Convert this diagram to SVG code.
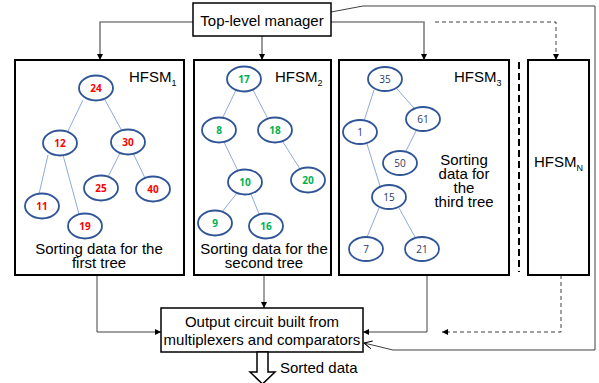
<svg xmlns="http://www.w3.org/2000/svg" width="599" height="383" viewBox="0 0 599 383">
<defs>
<style>
.lbl{font-family:"Liberation Sans",Arial,sans-serif;font-size:15px;fill:#000}
.box{fill:#fff;stroke:#000;stroke-width:2}
.nd{fill:#fff;stroke:#2f5597;stroke-width:1.8}
.ed{stroke:#8faadc;stroke-width:1;fill:none}
.num{font-family:"Open Sans","Liberation Sans",sans-serif;font-size:10px;text-anchor:middle;dominant-baseline:central}
.r{fill:#ff0000;font-weight:bold}
.g{fill:#00b050;font-weight:bold}
.b{fill:#1f3864}
.mg{stroke:#808080;stroke-width:1.6;fill:none}
.cn{stroke:#404040;stroke-width:1;fill:none}
.dash{stroke-dasharray:4 3}
</style>
<marker id="ah" markerUnits="userSpaceOnUse" markerWidth="7" markerHeight="7" refX="6" refY="3" orient="auto">
<path d="M0,0 L6,3 L0,6 z" fill="#000"/>
</marker>
<marker id="oa" markerUnits="userSpaceOnUse" markerWidth="10" markerHeight="10" refX="8" refY="4" orient="auto">
<path d="M0,0 L8,4 L0,8" fill="none" stroke="#000" stroke-width="1"/>
</marker>
</defs>
<rect width="599" height="383" fill="#fff"/>

<g id="connectors">
<path class="mg" d="M193,22 H100 V60" marker-end="url(#ah)"/>
<path class="mg" d="M262,36 V60" marker-end="url(#ah)"/>
<path class="mg" d="M331,22 H424 V60" marker-end="url(#ah)"/>
<path class="cn dash" d="M435,22 H556 V60" marker-end="url(#ah)"/>
<path class="cn" d="M331,12 L363,6 H595 V350 H393 L364,343" marker-end="url(#oa)"/>
<path class="cn" d="M97,275 V332 H161" marker-end="url(#ah)"/>
<path class="cn" d="M264,275 V308" marker-end="url(#ah)"/>
<path class="cn" d="M427,275 V332 H363" marker-end="url(#ah)"/>
<path class="cn dash" d="M561,275 V332 H442" marker-end="url(#ah)"/>
<path d="M519,62 V272" stroke="#000" stroke-width="2" stroke-dasharray="7 4" fill="none"/>
</g>

<g id="manager">
<rect x="193" y="3" width="138" height="33" fill="#fff" stroke="#000" stroke-width="1.5"/>
<text class="lbl" x="262" y="26" text-anchor="middle">Top-level manager</text>
</g>

<g id="hfsm1">
<rect class="box" x="15" y="60" width="169" height="215"/>
<text class="lbl" x="129" y="82">HFSM<tspan font-size="9" dy="4">1</tspan></text>
<line class="ed" x1="83" y1="100" x2="68" y2="131"/>
<line class="ed" x1="105" y1="100" x2="122" y2="131"/>
<line class="ed" x1="48" y1="155" x2="39" y2="194"/>
<line class="ed" x1="63" y1="155" x2="79" y2="214"/>
<line class="ed" x1="120" y1="153" x2="108" y2="177"/>
<line class="ed" x1="133" y1="153" x2="145" y2="178"/>
<ellipse class="nd" cx="96" cy="88" rx="17" ry="12.5"/><text class="num r" x="96" y="88">24</text>
<ellipse class="nd" cx="60" cy="143" rx="17" ry="12.5"/><text class="num r" x="60" y="143">12</text>
<ellipse class="nd" cx="128" cy="142" rx="17" ry="12.5"/><text class="num r" x="128" y="142">30</text>
<ellipse class="nd" cx="101" cy="188" rx="17" ry="12.5"/><text class="num r" x="101" y="188">25</text>
<ellipse class="nd" cx="153" cy="189" rx="17" ry="12.5"/><text class="num r" x="153" y="189">40</text>
<ellipse class="nd" cx="42" cy="206" rx="17" ry="12.5"/><text class="num r" x="42" y="206">11</text>
<ellipse class="nd" cx="85" cy="226" rx="17" ry="12.5"/><text class="num r" x="85" y="226">19</text>
<text class="lbl" text-anchor="middle"><tspan x="99" y="254">Sorting data for the</tspan><tspan x="99" y="268">first tree</tspan></text>
</g>

<g id="hfsm2">
<rect class="box" x="194" y="60" width="137" height="215"/>
<text class="lbl" x="275" y="82">HFSM<tspan font-size="9" dy="4">2</tspan></text>
<line class="ed" x1="236" y1="90" x2="222" y2="119"/>
<line class="ed" x1="253" y1="90" x2="268" y2="119"/>
<line class="ed" x1="224" y1="142" x2="238" y2="171"/>
<line class="ed" x1="283" y1="142" x2="300" y2="169"/>
<line class="ed" x1="237" y1="193" x2="222" y2="212"/>
<line class="ed" x1="251" y1="194" x2="259" y2="214"/>
<ellipse class="nd" cx="244" cy="79" rx="17" ry="12.5"/><text class="num g" x="244" y="79">17</text>
<ellipse class="nd" cx="219" cy="130" rx="17" ry="12.5"/><text class="num g" x="219" y="130">8</text>
<ellipse class="nd" cx="275" cy="130" rx="17" ry="12.5"/><text class="num g" x="275" y="130">18</text>
<ellipse class="nd" cx="245" cy="182" rx="17" ry="12.5"/><text class="num g" x="245" y="182">10</text>
<ellipse class="nd" cx="308" cy="180" rx="17" ry="12.5"/><text class="num g" x="308" y="180">20</text>
<ellipse class="nd" cx="215" cy="223" rx="17" ry="12.5"/><text class="num g" x="215" y="223">9</text>
<ellipse class="nd" cx="266" cy="226" rx="17" ry="12.5"/><text class="num g" x="266" y="226">16</text>
<text class="lbl" text-anchor="middle"><tspan x="264" y="254">Sorting data for the</tspan><tspan x="264" y="268">second tree</tspan></text>
</g>

<g id="hfsm3">
<rect class="box" x="339" y="60" width="170" height="215"/>
<text class="lbl" x="454" y="82">HFSM<tspan font-size="9" dy="4">3</tspan></text>
<line class="ed" x1="374" y1="90" x2="364" y2="121"/>
<line class="ed" x1="397" y1="89" x2="414" y2="108"/>
<line class="ed" x1="416" y1="131" x2="406" y2="151"/>
<line class="ed" x1="367" y1="144" x2="380" y2="186"/>
<line class="ed" x1="379" y1="208" x2="367" y2="237"/>
<line class="ed" x1="399" y1="208" x2="415" y2="237"/>
<ellipse class="nd" cx="385" cy="79" rx="17" ry="12"/><text class="num b" x="385" y="79">35</text>
<ellipse class="nd" cx="423" cy="119" rx="17" ry="12"/><text class="num b" x="423" y="119">61</text>
<ellipse class="nd" cx="360" cy="132" rx="17" ry="12"/><text class="num b" x="360" y="132">1</text>
<ellipse class="nd" cx="400" cy="163" rx="17" ry="12"/><text class="num b" x="400" y="163">50</text>
<ellipse class="nd" cx="389" cy="197" rx="17" ry="12"/><text class="num b" x="389" y="197">15</text>
<ellipse class="nd" cx="366" cy="249" rx="17" ry="12"/><text class="num b" x="366" y="249">7</text>
<ellipse class="nd" cx="422" cy="249" rx="17" ry="12"/><text class="num b" x="422" y="249">21</text>
<text class="lbl" text-anchor="middle"><tspan x="464" y="165">Sorting</tspan><tspan x="464" y="179">data for</tspan><tspan x="464" y="193">the</tspan><tspan x="464" y="207">third tree</tspan></text>
</g>

<g id="hfsmN">
<rect class="box" x="528" y="60" width="61" height="215"/>
<text class="lbl" x="534" y="167">HFSM<tspan font-size="9" dy="4">N</tspan></text>
</g>

<g id="output">
<rect x="161" y="308" width="202" height="44" fill="#fff" stroke="#000" stroke-width="1.5"/>
<text class="lbl" text-anchor="middle"><tspan x="262" y="327">Output circuit built from</tspan><tspan x="262" y="345">multiplexers and comparators</tspan></text>
</g>

<g id="sorted">
<polygon points="257,352 268,352 268,372 275,372 262.5,384 250,372 257,372" fill="#fff" stroke="#000" stroke-width="1.5"/>
<text class="lbl" x="280" y="373">Sorted data</text>
</g>
</svg>
